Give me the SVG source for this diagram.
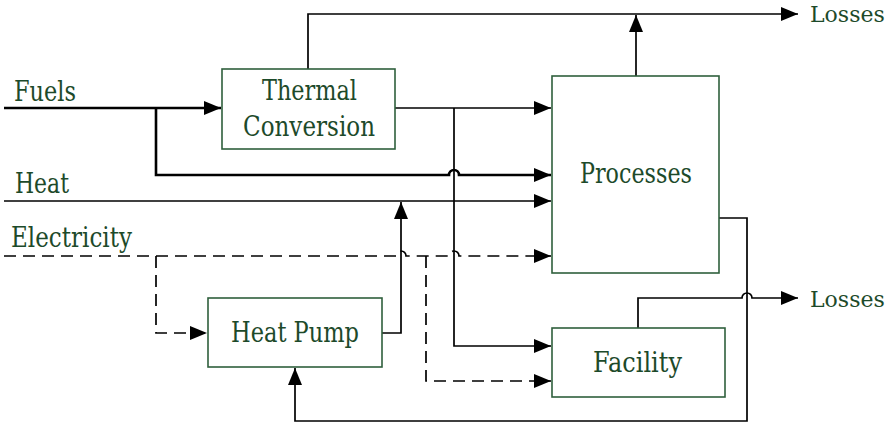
<svg xmlns="http://www.w3.org/2000/svg" width="890" height="423" viewBox="0 0 890 423">
<style>
.box{fill:#fff;stroke:#2f5f3c;stroke-width:1.6}
.lbl{font-family:'DejaVu Serif','Liberation Serif',serif;font-size:27px;fill:#1d4a2a}
.sm{font-size:22px}
.c{fill:none;stroke:#000;stroke-width:1.7}
.b{stroke-width:2.6}
.d{stroke-dasharray:12 7}
</style>
<defs>
<marker id="ah" markerUnits="userSpaceOnUse" markerWidth="18" markerHeight="16" viewBox="0 0 18 16" refX="17" refY="8" orient="auto">
<path d="M0,1 L17,8 L0,15 Z" fill="#000"/>
</marker>
</defs>
<rect width="890" height="423" fill="#fff"/>
<g id="connectors">
<path class="c b" d="M4,108 H221" marker-end="url(#ah)"/>
<path class="c b" d="M156,108 V175 H449 a5,5 0 0 1 10,0 H551" marker-end="url(#ah)"/>
<path class="c" d="M4,201 H551" marker-end="url(#ah)"/>
<path class="c d" d="M4,256 H396 a5,5 0 0 1 10,0 H449 a5,5 0 0 1 10,0 H551" marker-end="url(#ah)"/>
<path class="c d" d="M156,256 V333 H207" marker-end="url(#ah)"/>
<path class="c d" d="M426,256 V381 H551" marker-end="url(#ah)"/>
<path class="c" d="M395,108 H551" marker-end="url(#ah)"/>
<path class="c" d="M454,108 V346 H551" marker-end="url(#ah)"/>
<path class="c" d="M308,69 V14 H798" marker-end="url(#ah)"/>
<path class="c" d="M636,76 V15" marker-end="url(#ah)"/>
<path class="c" d="M382,333 H401 V202" marker-end="url(#ah)"/>
<path class="c" d="M638,328 V298 H742 a5,5 0 0 1 10,0 H798" marker-end="url(#ah)"/>
<path class="c" d="M719,218 H747 V421 H295 V368" marker-end="url(#ah)"/>
</g>
<g id="labels">
<text class="lbl" x="14" y="101" textLength="62" lengthAdjust="spacingAndGlyphs">Fuels</text>
<text class="lbl" x="15" y="193" textLength="54" lengthAdjust="spacingAndGlyphs">Heat</text>
<text class="lbl" x="11" y="247" textLength="121" lengthAdjust="spacingAndGlyphs">Electricity</text>
<text class="lbl sm" x="810" y="22">Losses</text>
<text class="lbl sm" x="810" y="307">Losses</text>
</g>
<g id="thermal">
<rect class="box" x="222" y="69" width="173" height="80"/>
<text class="lbl" x="262" y="100" textLength="95" lengthAdjust="spacingAndGlyphs">Thermal</text>
<text class="lbl" x="243" y="136" textLength="132" lengthAdjust="spacingAndGlyphs">Conversion</text>
</g>
<g id="processes">
<rect class="box" x="552" y="76" width="167" height="197"/>
<text class="lbl" x="580" y="183" textLength="112" lengthAdjust="spacingAndGlyphs">Processes</text>
</g>
<g id="heatpump">
<rect class="box" x="208" y="298" width="174" height="69"/>
<text class="lbl" x="231" y="342" textLength="128" lengthAdjust="spacingAndGlyphs">Heat Pump</text>
</g>
<g id="facility">
<rect class="box" x="552" y="328" width="173" height="69"/>
<text class="lbl" x="593" y="372" textLength="89" lengthAdjust="spacingAndGlyphs">Facility</text>
</g>
</svg>
